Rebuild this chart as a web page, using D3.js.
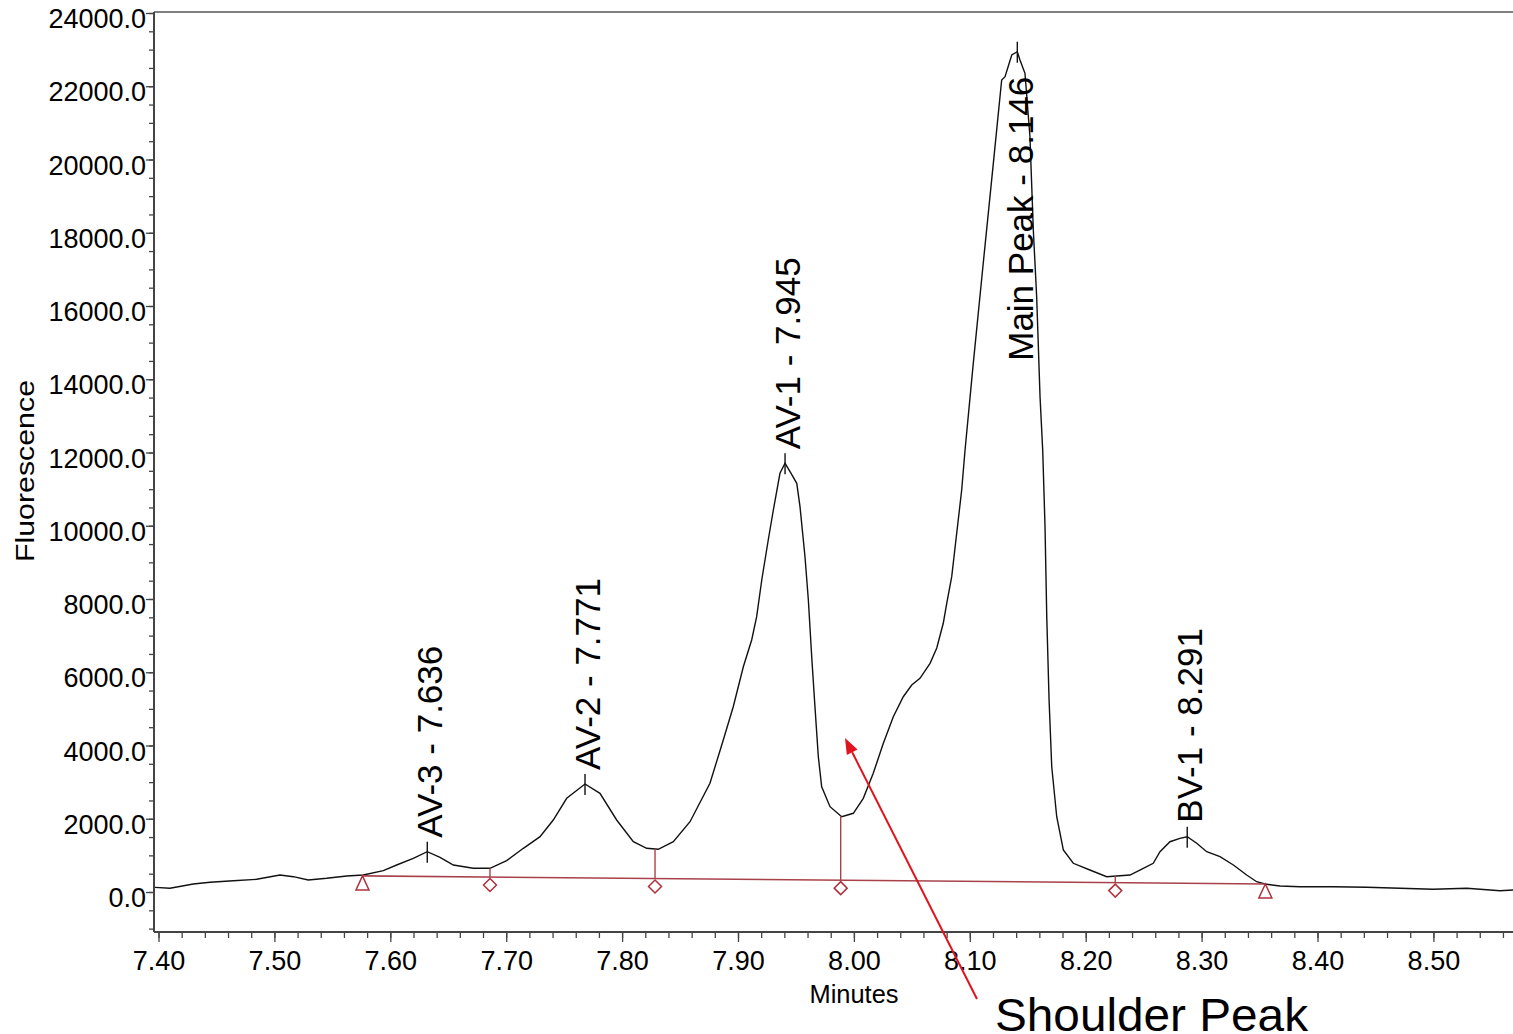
<!DOCTYPE html>
<html>
<head>
<meta charset="utf-8">
<script src="https://cdn.jsdelivr.net/npm/d3@7"></script>
<style>
  body { margin: 0; background: #fff; }
  svg text { font-family: "Liberation Sans", Arial, sans-serif; fill: #000; }
</style>
</head>
<body>
<svg id="chart" width="1513" height="1034"></svg>
<script>
// chromatogram trace
const times = [7.3955, 7.4099, 7.4300, 7.4444, 7.4645, 7.4847, 7.5048, 7.5163, 7.5292, 7.5451,
  7.5624, 7.5767, 7.5940, 7.6055, 7.6198, 7.6319, 7.6429, 7.6544, 7.6716, 7.6860,
  7.7004, 7.7148, 7.7292, 7.7406, 7.7522, 7.7680, 7.7809, 7.7953, 7.8097, 7.8212,
  7.8312, 7.8442, 7.8586, 7.8758, 7.8873, 7.8959, 7.9046, 7.9118, 7.9161, 7.9205,
  7.9261, 7.9305, 7.9362, 7.9406, 7.9449, 7.9507, 7.9535, 7.9578, 7.9607, 7.9636,
  7.9664, 7.9693, 7.9722, 7.9794, 7.9895, 7.9995, 8.0081, 8.0167, 8.0254, 8.0340,
  8.0426, 8.0499, 8.0570, 8.0657, 8.0715, 8.0771, 8.0801, 8.0844, 8.0887, 8.0930,
  8.0959, 8.1030, 8.1116, 8.1203, 8.1275, 8.1304, 8.1362, 8.1410, 8.1433, 8.1476,
  8.1519, 8.1548, 8.1577, 8.1606, 8.1629, 8.1649, 8.1664, 8.1684, 8.1707, 8.1750,
  8.1807, 8.1893, 8.2036, 8.2181, 8.2267, 8.2382, 8.2497, 8.2583, 8.2641, 8.2727,
  8.2813, 8.2876, 8.2958, 8.3044, 8.3159, 8.3274, 8.3389, 8.3475, 8.3547, 8.3677,
  8.3849, 8.4134, 8.4425, 8.4712, 8.4997, 8.5288, 8.5575, 8.5687]
const values = [128, 101, 218, 265, 309, 347, 464, 418, 328, 374,
  437, 464, 582, 737, 920, 1100, 947, 737, 647, 647,
  855, 1193, 1510, 1966, 2558, 2949, 2695, 1966, 1373, 1193,
  1166, 1373, 1919, 2968, 4150, 5059, 6151, 6881, 7517, 8519,
  9611, 10430, 11432, 11705, 11476, 11159, 10520, 9155, 7973, 6425,
  5059, 3694, 2875, 2329, 2056, 2149, 2558, 3241, 4060, 4786,
  5332, 5652, 5835, 6244, 6662, 7337, 7883, 8609, 9794, 10976,
  12068, 14435, 17166, 19896, 22171, 22261, 22853, 22943, 22717, 22354,
  20623, 18075, 16254, 13524, 12068, 9974, 7517, 5242, 3421, 2056,
  1147, 784, 601, 418, 437, 464, 647, 784, 1100, 1373,
  1466, 1510, 1330, 1100, 964, 737, 464, 281, 218, 164,
  145, 145, 128, 101, 74, 101, 35, 55]

const peakNames = ["AV-3", "AV-2", "AV-1", "Main Peak", "BV-1"]
const peakTimes = [7.636, 7.771, 7.945, 8.146, 8.291]

// integration baseline and valley drops
const baseStart = [7.576, 440]
const baseEnd = [8.355, 220]
const valleyTimes = [7.686, 7.8284, 7.9886, 8.2255]

const xTicks = [7.40, 7.50, 7.60, 7.70, 7.80, 7.90, 8.00, 8.10, 8.20, 8.30, 8.40, 8.50]
const yTicks = [0, 2000, 4000, 6000, 8000, 10000, 12000, 14000, 16000, 18000, 20000, 22000, 24000]

// shoulder peak annotation (arrow tail -> tip, in data units)
const arrowFrom = [8.1062, -2920]
const arrowTo = [7.9923, 4205]

const svg = d3.select("#chart")
const plotL = 154, plotR = 1513, plotT = 12, plotB = 932

const x = d3.scaleLinear().domain([7.40, 8.50]).range([158.5, 1433.4])
const y = d3.scaleLinear().domain([0, 24000]).range([892, 13])

const trace = times.map((t, i) => ({t: t, v: values[i]}))
const valueAt = t => {
    let i = d3.bisector(d => d.t).left(trace, t)
    if (i <= 0) return trace[0].v
    if (i >= trace.length) return trace[trace.length - 1].v
    let a = trace[i - 1], b = trace[i]
    return a.v + (b.v - a.v) * (t - a.t) / (b.t - a.t)
}
const baseAt = t => baseStart[1] + (baseEnd[1] - baseStart[1]) * (t - baseStart[0]) / (baseEnd[0] - baseStart[0])

// axes
const axisColor = "#444"
svg.append("line").attr("x1", plotL).attr("x2", plotR).attr("y1", plotT).attr("y2", plotT)
    .attr("stroke", "#555").attr("stroke-width", 1.3)

const minorX = d3.range(7.40, 8.57, 0.02)
const xAxis = svg.append("g").attr("transform", `translate(0,${plotB})`)
    .call(d3.axisBottom(x).tickValues(minorX).tickSize(6).tickFormat(""))
xAxis.append("g").call(d3.axisBottom(x).tickValues(xTicks).tickSize(10).tickFormat(d3.format(".2f")))
xAxis.selectAll(".domain").remove()
xAxis.selectAll("line").attr("stroke", axisColor).attr("stroke-width", 1.3)
xAxis.selectAll("text").attr("font-size", 27).attr("dy", 0).attr("y", 38)
svg.append("line").attr("x1", plotL).attr("x2", plotR).attr("y1", plotB).attr("y2", plotB)
    .attr("stroke", axisColor).attr("stroke-width", 2)

const minorY = d3.range(-1000, 24001, 500)
const yAxis = svg.append("g").attr("transform", `translate(${plotL},0)`)
    .call(d3.axisLeft(y).tickValues(minorY).tickSize(5).tickFormat(""))
yAxis.append("g").call(d3.axisLeft(y).tickValues(yTicks).tickSize(8).tickFormat(d3.format(".1f")))
yAxis.selectAll(".domain").remove()
yAxis.selectAll("line").attr("stroke", axisColor).attr("stroke-width", 1.3)
yAxis.selectAll("text").attr("font-size", 27).attr("x", -8).attr("y", 5).attr("dy", "0.36em")
svg.append("line").attr("x1", plotL).attr("x2", plotL).attr("y1", plotT).attr("y2", plotB)
    .attr("stroke", axisColor).attr("stroke-width", 2)

svg.append("text").attr("x", 854).attr("y", 1003).attr("text-anchor", "middle")
    .attr("font-size", 25).attr("textLength", 89).attr("lengthAdjust", "spacingAndGlyphs").text("Minutes")
svg.append("text").attr("transform", "translate(34,471) rotate(-90)").attr("text-anchor", "middle")
    .attr("font-size", 25).attr("textLength", 182).attr("lengthAdjust", "spacingAndGlyphs").text("Fluorescence")

// trace
svg.append("clipPath").attr("id", "plot").append("rect")
    .attr("x", plotL + 1).attr("y", plotT).attr("width", plotR - plotL).attr("height", plotB - plotT)
svg.append("path").datum(trace)
    .attr("clip-path", "url(#plot)")
    .attr("d", d3.line().x(d => x(d.t)).y(d => y(d.v)))
    .attr("fill", "none").attr("stroke", "#111").attr("stroke-width", 1.4)

// baseline, drops and markers
const baseColor = "#a8424a", markColor = "#b0303c"
svg.append("line")
    .attr("x1", x(baseStart[0])).attr("y1", y(baseStart[1]))
    .attr("x2", x(baseEnd[0])).attr("y2", y(baseEnd[1]))
    .attr("stroke", baseColor).attr("stroke-width", 1.6)

svg.selectAll(".drop").data(valleyTimes).join("line").attr("class", "drop")
    .attr("x1", d => x(d)).attr("x2", d => x(d))
    .attr("y1", d => y(valueAt(d))).attr("y2", d => y(baseAt(d)))
    .attr("stroke", baseColor).attr("stroke-width", 1.4)

svg.selectAll(".diamond").data(valleyTimes).join("path").attr("class", "diamond")
    .attr("transform", d => `translate(${x(d)},${y(baseAt(d)) + 8})`)
    .attr("d", "M0,-6.5L6.5,0L0,6.5L-6.5,0Z")
    .attr("fill", "none").attr("stroke", markColor).attr("stroke-width", 1.5)

svg.selectAll(".tri").data([baseStart, baseEnd]).join("path").attr("class", "tri")
    .attr("transform", d => `translate(${x(d[0])},${y(d[1])})`)
    .attr("d", "M0,0L6.5,14L-6.5,14Z")
    .attr("fill", "none").attr("stroke", markColor).attr("stroke-width", 1.5)

// peak apex ticks and labels
const peaks = peakNames.map((name, i) => {
    let near = trace.filter(d => Math.abs(d.t - peakTimes[i]) < 0.015)
    let apex = near.reduce((a, b) => b.v > a.v ? b : a)
    return {name: name, rt: peakTimes[i], apex: apex}
})

const pk = svg.selectAll(".peak").data(peaks).join("g").attr("class", "peak")
    .attr("transform", d => `translate(${x(d.apex.t)},${y(d.apex.v)})`)
pk.append("line").attr("y1", -10).attr("y2", 11).attr("stroke", "#111").attr("stroke-width", 1.4)
pk.append("text")
    .attr("transform", d => d.name == "Main Peak" ? "translate(16,25) rotate(-90)" : "translate(15,-14) rotate(-90)")
    .attr("text-anchor", d => d.name == "Main Peak" ? "end" : "start")
    .attr("font-size", 35)
    .text(d => `${d.name} - ${d.rt.toFixed(3)}`)

// shoulder annotation
const ax1 = x(arrowFrom[0]), ay1 = y(arrowFrom[1]), ax2 = x(arrowTo[0]), ay2 = y(arrowTo[1])
const ang = Math.atan2(ay2 - ay1, ax2 - ax1)
const headLen = 16, headW = 6
const bx = ax2 - headLen * Math.cos(ang), by = ay2 - headLen * Math.sin(ang)
svg.append("line").attr("x1", ax1).attr("y1", ay1).attr("x2", bx).attr("y2", by)
    .attr("stroke", "#e0141e").attr("stroke-width", 2)
svg.append("path")
    .attr("d", `M${ax2},${ay2}L${bx + headW * Math.sin(ang)},${by - headW * Math.cos(ang)}L${bx - headW * Math.sin(ang)},${by + headW * Math.cos(ang)}Z`)
    .attr("fill", "#e0141e")

svg.append("text").attr("x", 995).attr("y", 1031).attr("font-size", 47)
    .attr("textLength", 313).attr("lengthAdjust", "spacingAndGlyphs").text("Shoulder Peak")
</script>
</body>
</html>
